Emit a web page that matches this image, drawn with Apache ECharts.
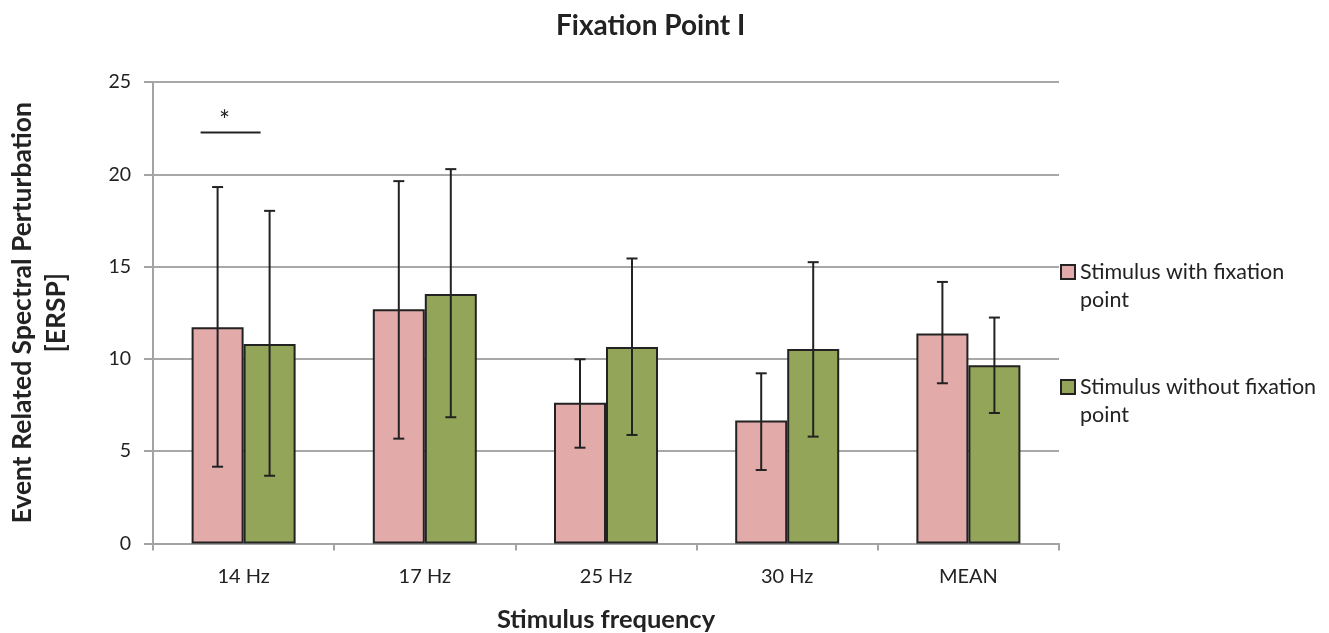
<!DOCTYPE html>
<html>
<head>
    <meta charset="utf-8">
    <title>Fixation Point I</title>
    <script src="https://cdn.jsdelivr.net/npm/echarts@6.0.0/dist/echarts.min.js"></script>
    <style>
        body { margin: 0; background: #fff; }
        #chart { width: 1329px; height: 633px; }
    </style>
</head>
<body>
    <div id="chart"></div>
    <script>
        // data
        var categories = ['14 Hz', '17 Hz', '25 Hz', '30 Hz', 'MEAN'];
        var withFix = [11.72, 12.69, 7.63, 6.66, 11.37];
        var withFixLow = [4.16, 5.68, 5.19, 3.98, 8.68];
        var withFixHigh = [19.31, 19.63, 9.98, 9.22, 14.17];
        var withoutFix = [10.81, 13.52, 10.65, 10.53, 9.66];
        var withoutFixLow = [3.67, 6.84, 5.88, 5.79, 7.07];
        var withoutFixHigh = [18.02, 20.28, 15.44, 15.24, 12.24];
        var yTicks = [0, 5, 10, 15, 20, 25];
        var sigMarks = [['14 Hz', 22.27, '*']];

        var font = 'Lato, "Open Sans", sans-serif';
        var barW = 52;

        function errData(low, high) {
            return categories.map(function (c, i) { return [i, low[i], high[i]]; });
        }

        function errRenderer(shift) {
            return function (params, api) {
                var lo = api.coord([api.value(0), api.value(1)]);
                var hi = api.coord([api.value(0), api.value(2)]);
                var x = lo[0] + shift;
                var cap = 5.5;
                var st = { stroke: '#222', lineWidth: 2 };
                return {
                    type: 'group',
                    children: [
                        { type: 'line', shape: { x1: x, y1: lo[1], x2: x, y2: hi[1] }, style: st },
                        { type: 'line', shape: { x1: x - cap, y1: lo[1], x2: x + cap, y2: lo[1] }, style: st },
                        { type: 'line', shape: { x1: x - cap, y1: hi[1], x2: x + cap, y2: hi[1] }, style: st }
                    ]
                };
            };
        }

        var chart = echarts.init(document.getElementById('chart'));
        chart.setOption({
            backgroundColor: '#fff',
            animation: false,
            textStyle: { fontFamily: font },
            title: {
                text: 'Fixation Point I',
                left: 551,
                top: 7,
                textStyle: { fontFamily: font, fontSize: 28, fontWeight: 'bold', color: '#222' }
            },
            legend: {
                orient: 'vertical',
                left: 1055,
                top: 225,
                itemGap: 31,
                itemWidth: 14,
                itemHeight: 14,
                icon: 'rect',
                data: ['Stimulus with fixation point', 'Stimulus without fixation point'],
                formatter: function (name) {
                    return name === 'Stimulus with fixation point'
                        ? '\nStimulus with fixation\npoint'
                        : '\nStimulus without fixation\npoint';
                },
                textStyle: { fontFamily: font, fontSize: 21.5, color: '#222', lineHeight: 28 }
            },
            grid: { left: 153, right: 270, top: 82, bottom: 89.5, outerBoundsMode: 'none' },
            xAxis: {
                type: 'category',
                data: categories,
                name: 'Stimulus frequency',
                nameLocation: 'middle',
                nameGap: 63,
                nameTextStyle: { fontFamily: font, fontSize: 25.5, fontWeight: 'bold', color: '#222' },
                axisLine: { lineStyle: { color: '#a3a3a3', width: 2 } },
                axisTick: { show: true, length: 7, lineStyle: { color: '#a3a3a3', width: 2 } },
                axisLabel: { fontSize: 20, color: '#222', margin: 23 }
            },
            yAxis: {
                type: 'value',
                min: yTicks[0],
                max: yTicks[yTicks.length - 1],
                interval: yTicks[1] - yTicks[0],
                name: 'Event Related Spectral Perturbation\n[ERSP]',
                nameLocation: 'middle',
                nameGap: 80,
                nameRotate: 90,
                nameTextStyle: { fontFamily: font, fontSize: 26.5, fontWeight: 'bold', color: '#222', lineHeight: 34 },
                axisLine: { show: true, lineStyle: { color: '#a3a3a3', width: 2 } },
                axisTick: { show: true, length: 9, lineStyle: { color: '#a3a3a3', width: 2 } },
                axisLabel: { fontSize: 19.5, color: '#222', margin: 22 },
                splitLine: { lineStyle: { color: '#a8a8a8', width: 2 } }
            },
            series: [
                {
                    name: 'Stimulus with fixation point',
                    type: 'bar',
                    data: withFix,
                    barWidth: barW,
                    barGap: '0%',
                    itemStyle: { color: '#e2aaa9', borderColor: '#222', borderWidth: 2 }
                },
                {
                    name: 'Stimulus without fixation point',
                    type: 'bar',
                    data: withoutFix,
                    barWidth: barW,
                    barGap: '0%',
                    itemStyle: { color: '#93a558', borderColor: '#222', borderWidth: 2 }
                },
                {
                    type: 'custom',
                    renderItem: errRenderer(-barW / 2),
                    encode: { x: 0, y: [1, 2] },
                    data: errData(withFixLow, withFixHigh),
                    z: 10
                },
                {
                    type: 'custom',
                    renderItem: errRenderer(barW / 2),
                    encode: { x: 0, y: [1, 2] },
                    data: errData(withoutFixLow, withoutFixHigh),
                    z: 10
                },
                {
                    type: 'custom',
                    encode: { x: 0, y: 1 },
                    data: sigMarks,
                    z: 10,
                    renderItem: function (params, api) {
                        var p = api.coord([api.value(0), api.value(1)]);
                        var x0 = p[0] - 43, x1 = p[0] + 17;
                        return {
                            type: 'group',
                            children: [
                                { type: 'line', shape: { x1: x0, y1: p[1], x2: x1, y2: p[1] }, style: { stroke: '#222', lineWidth: 2 } },
                                { type: 'text', style: { text: api.value(2), x: (x0 + x1) / 2 - 6, y: p[1] + 2, align: 'center', verticalAlign: 'bottom', fontSize: 26, fontFamily: font, fill: '#222' } }
                            ]
                        };
                    }
                }
            ]
        });
    </script>
</body>
</html>
